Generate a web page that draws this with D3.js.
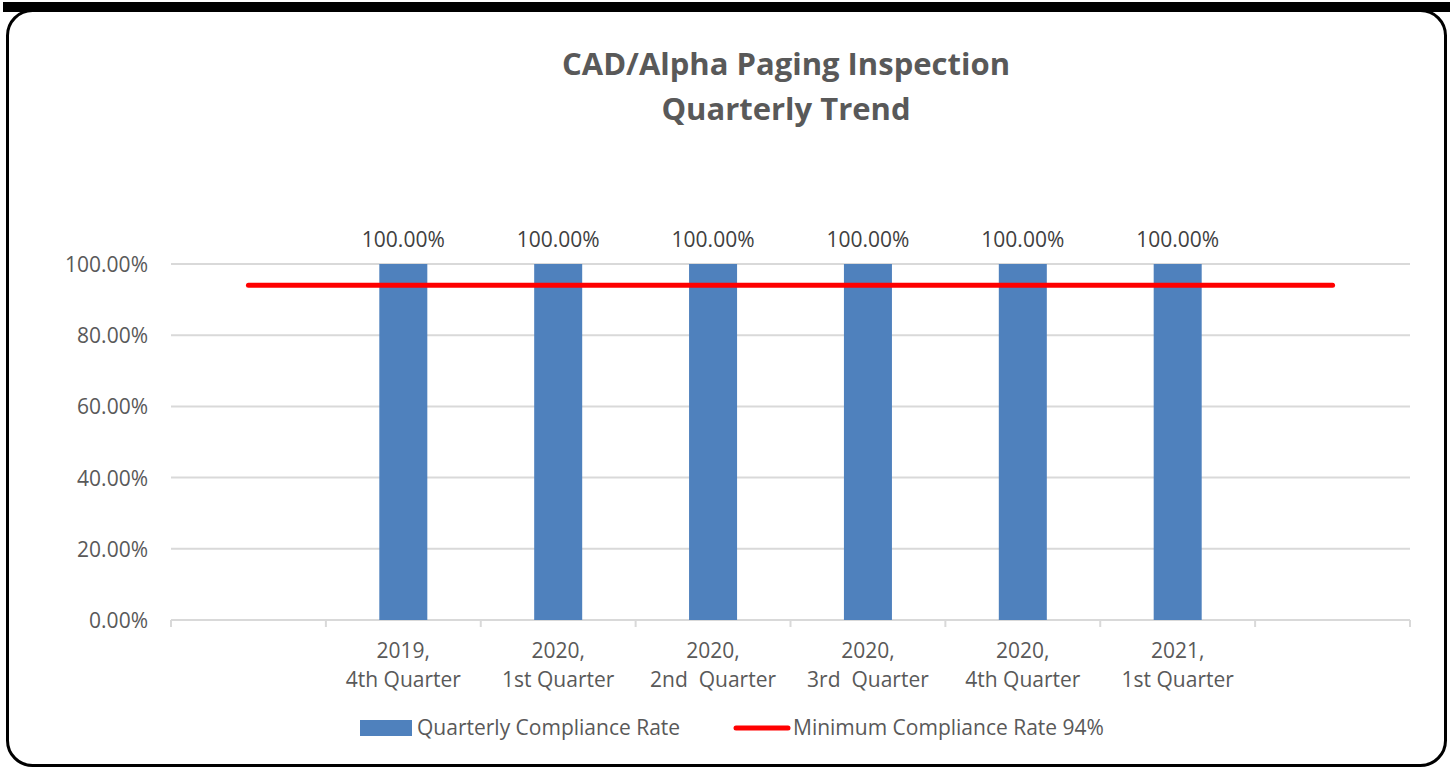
<!DOCTYPE html>
<html>
<head>
<meta charset="utf-8">
<script src="https://cdn.jsdelivr.net/npm/d3@7"></script>
<style>
  html, body { margin: 0; padding: 0; background: #ffffff; }
  svg { display: block; }
  text { font-family: "Open Sans", "Liberation Sans", sans-serif; white-space: pre; }
</style>
</head>
<body>
<svg id="chart" width="1453" height="768"></svg>
<script>
// ---- data ----
const titleLines = ["CAD/Alpha Paging Inspection", "Quarterly Trend"];
const categoryLabels = [
  [],
  ["2019,", "4th Quarter"],
  ["2020,", "1st Quarter"],
  ["2020,", "2nd  Quarter"],
  ["2020,", "3rd  Quarter"],
  ["2020,", "4th Quarter"],
  ["2021,", "1st Quarter"],
  []
];
const complianceRate = [null, 1.0, 1.0, 1.0, 1.0, 1.0, 1.0, null];
const minimumRate = [0.94, 0.94, 0.94, 0.94, 0.94, 0.94, 0.94, 0.94];
const yTicks = [0, 0.2, 0.4, 0.6, 0.8, 1.0];
const seriesNames = ["Quarterly Compliance Rate", "Minimum Compliance Rate 94%"];

// ---- layout ----
const svg = d3.select("#chart");
const plot = { left: 171, right: 1410, top: 264, bottom: 620 };
const barColor = "#4f81bd";
const lineColor = "#ff0000";
const gridColor = "#d9d9d9";
const textColor = "#595959";
const fs = 21;

// frame
svg.append("rect").attr("x", 3).attr("y", 2).attr("width", 1447).attr("height", 10).attr("fill", "#000");
svg.append("rect").attr("x", 7.5).attr("y", 10.5).attr("width", 1438).attr("height", 755)
  .attr("rx", 25).attr("ry", 25).attr("fill", "none").attr("stroke", "#000").attr("stroke-width", 3);

// scales
const x = d3.scaleBand().domain(d3.range(categoryLabels.length)).range([plot.left, plot.right]).paddingInner(0).paddingOuter(0);
const y = d3.scaleLinear().domain([0, 1]).range([plot.bottom, plot.top]);
const barW = x.bandwidth() * 0.31;

// title
svg.append("g").selectAll("text").data(titleLines).join("text")
  .attr("x", 786).attr("y", (d, i) => 75 + i * 45)
  .attr("text-anchor", "middle").attr("font-size", 31).attr("font-weight", 700)
  .attr("fill", textColor).text(d => d);

// gridlines
svg.append("g").selectAll("line").data(yTicks.filter(t => t > 0)).join("line")
  .attr("x1", plot.left).attr("x2", plot.right)
  .attr("y1", d => y(d)).attr("y2", d => y(d))
  .attr("stroke", gridColor).attr("stroke-width", 2);

// y axis labels
const yAxis = d3.axisLeft(y).tickValues(yTicks).tickFormat(d3.format(".2%")).tickSize(0).tickPadding(23);
const yg = svg.append("g").attr("transform", `translate(${plot.left},0)`).call(yAxis);
yg.select(".domain").remove();
yg.selectAll("text").attr("font-size", fs).attr("fill", textColor).attr("dy", "0.36em")
  .style("font-family", "'Open Sans', sans-serif");

// x axis line + ticks
const xg = svg.append("g");
xg.append("line").attr("x1", plot.left).attr("x2", plot.right).attr("y1", plot.bottom).attr("y2", plot.bottom)
  .attr("stroke", gridColor).attr("stroke-width", 2);
const boundaries = d3.range(categoryLabels.length + 1).map(i => i < categoryLabels.length ? x(i) : x(i - 1) + x.bandwidth());
xg.selectAll("line.tick").data(boundaries).join("line").attr("class", "tick")
  .attr("x1", d => d).attr("x2", d => d).attr("y1", plot.bottom).attr("y2", plot.bottom + 7)
  .attr("stroke", gridColor).attr("stroke-width", 2);

// x labels
const xl = xg.selectAll("text.xl").data(categoryLabels).join("text").attr("class", "xl")
  .attr("text-anchor", "middle").attr("font-size", fs).attr("fill", textColor);
xl.each(function(lines, i) {
  d3.select(this).selectAll("tspan").data(lines).join("tspan")
    .attr("x", x(i) + x.bandwidth() / 2).attr("y", (d, j) => 658 + j * 29).text(d => d);
});

// bars
const barData = complianceRate.map((v, i) => ({ i, v })).filter(d => d.v != null);
svg.append("g").selectAll("rect").data(barData).join("rect")
  .attr("x", d => x(d.i) + x.bandwidth() / 2 - barW / 2)
  .attr("y", d => y(d.v)).attr("width", barW).attr("height", d => y(0) - y(d.v))
  .attr("fill", barColor);

// data labels
svg.append("g").selectAll("text").data(barData).join("text")
  .attr("x", d => x(d.i) + x.bandwidth() / 2).attr("y", d => y(d.v) - 17)
  .attr("text-anchor", "middle").attr("font-size", fs).attr("fill", "#404040")
  .text(d => d3.format(".2%")(d.v));

// minimum line
const line = d3.line().x((d, i) => x(i) + x.bandwidth() / 2).y(d => y(d));
svg.append("path").datum(minimumRate).attr("d", line)
  .attr("fill", "none").attr("stroke", lineColor).attr("stroke-width", 5).attr("stroke-linecap", "round");

// legend
const lg = svg.append("g");
lg.append("rect").attr("x", 360).attr("y", 720).attr("width", 52).attr("height", 16).attr("fill", barColor);
lg.append("text").attr("x", 417).attr("y", 735).attr("font-size", fs).attr("fill", textColor).text(seriesNames[0]);
lg.append("line").attr("x1", 736).attr("x2", 788).attr("y1", 728).attr("y2", 728)
  .attr("stroke", lineColor).attr("stroke-width", 5).attr("stroke-linecap", "round");
lg.append("text").attr("x", 793).attr("y", 735).attr("font-size", fs).attr("fill", textColor).text(seriesNames[1]);
</script>
</body>
</html>
